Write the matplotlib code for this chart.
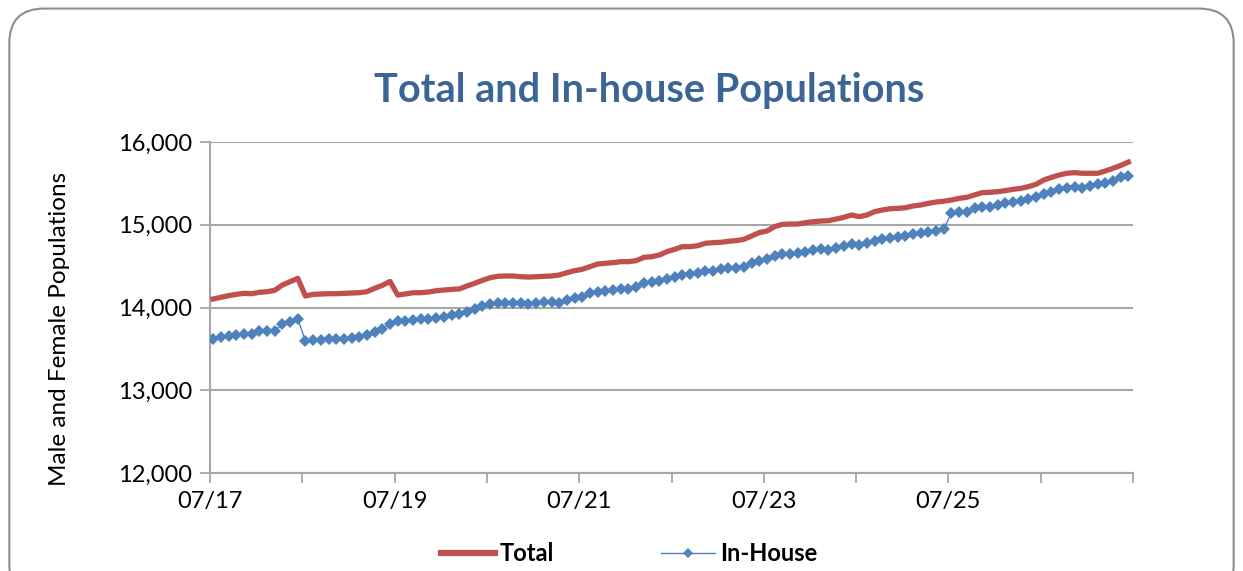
import numpy as np
import matplotlib.pyplot as plt
from matplotlib.patches import FancyBboxPatch
from matplotlib.lines import Line2D

plt.rcParams['font.family'] = ['Lato', 'DejaVu Sans']

# monthly population counts, July 2017 onwards
total = [14103, 14123, 14143, 14159, 14171, 14167, 14183, 14191, 14207, 14272, 14312, 14353,
         14139, 14159, 14163, 14167, 14167, 14171, 14175, 14179, 14191, 14232, 14268, 14315,
         14151, 14163, 14179, 14179, 14187, 14203, 14211, 14219, 14224, 14260, 14292, 14328,
         14360, 14377, 14381, 14381, 14372, 14368, 14372, 14377, 14381, 14393, 14421, 14445,
         14462, 14494, 14526, 14534, 14542, 14554, 14554, 14566, 14606, 14614, 14634, 14675,
         14703, 14735, 14735, 14747, 14776, 14784, 14788, 14800, 14808, 14824, 14864, 14905,
         14924, 14977, 15005, 15009, 15009, 15025, 15037, 15045, 15049, 15069, 15090, 15118,
         15098, 15118, 15158, 15178, 15194, 15198, 15206, 15227, 15239, 15259, 15275, 15285,
         15299, 15319, 15332, 15360, 15388, 15392, 15400, 15412, 15428, 15440, 15460, 15489,
         15541, 15573, 15601, 15622, 15630, 15622, 15622, 15622, 15650, 15682, 15717, 15757]

in_house = [13619, 13640, 13656, 13672, 13680, 13676, 13712, 13720, 13716, 13797, 13825, 13866,
            13595, 13607, 13611, 13615, 13615, 13619, 13631, 13643, 13664, 13708, 13740, 13800,
            13833, 13837, 13849, 13857, 13857, 13877, 13889, 13906, 13918, 13950, 13978, 14018,
            14038, 14050, 14050, 14050, 14050, 14038, 14058, 14062, 14066, 14058, 14092, 14110,
            14123, 14171, 14191, 14203, 14211, 14219, 14224, 14251, 14292, 14304, 14320, 14344,
            14364, 14393, 14405, 14413, 14441, 14445, 14462, 14474, 14482, 14494, 14534, 14560,
            14582, 14622, 14647, 14647, 14655, 14667, 14695, 14707, 14695, 14723, 14743, 14767,
            14755, 14776, 14808, 14824, 14836, 14848, 14864, 14888, 14897, 14917, 14924, 14945,
            15146, 15158, 15158, 15198, 15218, 15210, 15239, 15259, 15271, 15287, 15307, 15339,
            15368, 15400, 15428, 15448, 15460, 15448, 15468, 15489, 15509, 15529, 15573, 15593]

year_labels = ['07/17', '', '07/19', '', '07/21', '', '07/23', '', '07/25', '', '']
y_ticks = [12000, 13000, 14000, 15000, 16000]

red = '#C0504D'
blue = '#4F81BD'
grey = '#A6A6A6'

fig = plt.figure(figsize=(12.43, 5.71), dpi=100)

# rounded chart frame
frame = FancyBboxPatch((0.0075, -0.05), 0.985, 1.035,
                       boxstyle='round,pad=0,rounding_size=0.028',
                       transform=fig.transFigure, facecolor='white',
                       edgecolor='#8C8C8C', linewidth=1.5, zorder=-1,
                       mutation_aspect=1243 / 571)
fig.patches.append(frame)

ax = fig.add_axes([0.169, 0.1716, 0.7425, 0.5797])
ax.set_facecolor('none')

# points sit mid-month
months = np.arange(len(total)) + 0.4
ax.plot(months, total, color=red, linewidth=3.8, solid_joinstyle='round',
        label='Total', zorder=3)
ax.plot(months, in_house, color=blue, linewidth=1.0, marker='D',
        markersize=5.8, markeredgewidth=0, label='In-House', zorder=4)

ax.set_xlim(0, 120)
ax.set_ylim(12000, 16000)
ax.set_xticks(np.arange(0, 121, 12))
ax.set_xticklabels(year_labels)
ax.set_yticks(y_ticks)
ax.set_yticklabels([f'{v:,}' for v in y_ticks])
ax.tick_params(axis='both', labelsize=17, length=7, width=1.3, color=grey, pad=6)

ax.grid(axis='y', color=grey, linewidth=1.5)
ax.set_axisbelow(True)
for side in ['top', 'right']:
    ax.spines[side].set_visible(False)
for side in ['left', 'bottom']:
    ax.spines[side].set_color(grey)
    ax.spines[side].set_linewidth(1.5)

ax.set_ylabel('Male and Female Populations', fontsize=17.5, va='center')
ax.yaxis.set_label_coords(-0.163, 0.435)

fig.text(0.522, 0.842, 'Total and In-house Populations', ha='center', va='center',
         fontsize=28.5, fontweight='bold', color='#3B6497')

handles = [Line2D([], [], color=red, linewidth=4.5),
           Line2D([], [], color=blue, linewidth=1.0, marker='D', markersize=5.5,
                  markeredgewidth=0)]
fig.legend(handles, ['Total', 'In-House'], loc='center', bbox_to_anchor=(0.506, 0.031),
           ncol=2, frameon=False, prop={'size': 17, 'weight': 'bold'},
           handlelength=2.3, handletextpad=0.2, columnspacing=4.5)

fig.savefig('out.png', dpi=100)
